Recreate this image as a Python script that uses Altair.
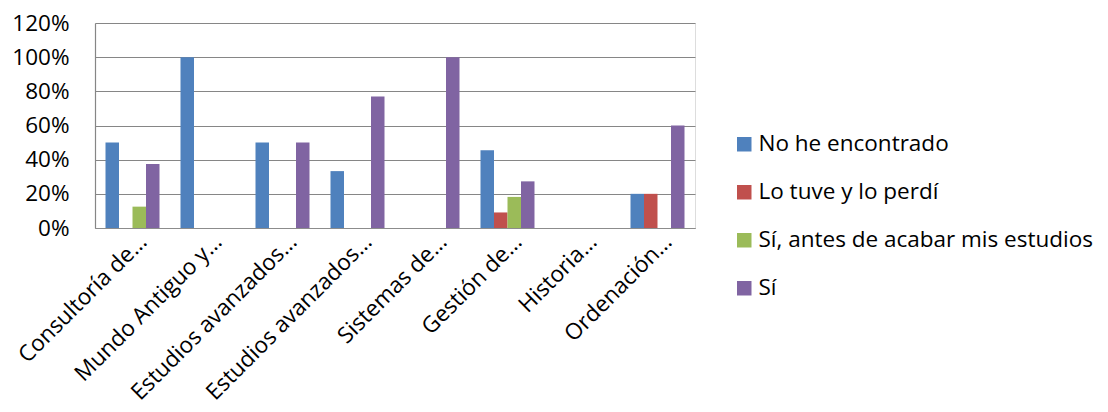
import json
import altair as alt
import pandas as pd

categories = [
    "Consultoría de...",
    "Mundo Antiguo y...",
    "Estudios avanzados...",
    "Estudios avanzados...",
    "Sistemas de...",
    "Gestión de...",
    "Historia...",
    "Ordenación...",
]
series = ["No he encontrado", "Lo tuve y lo perdí", "Sí, antes de acabar mis estudios", "Sí"]
colors = ["#4F81BD", "#C0504D", "#9BBB59", "#8064A2"]

no_he_encontrado = [0.50, 1.00, 0.50, 0.333, 0.0, 0.455, 0.0, 0.20]
lo_tuve_y_lo_perdi = [0.0, 0.0, 0.0, 0.0, 0.0, 0.091, 0.0, 0.20]
si_antes = [0.125, 0.0, 0.0, 0.0, 0.0, 0.182, 0.0, 0.0]
si = [0.375, 0.0, 0.50, 0.77, 1.00, 0.273, 0.0, 0.60]

values = [no_he_encontrado, lo_tuve_y_lo_perdi, si_antes, si]
rows = []
for s, vals in zip(series, values):
    for i, v in enumerate(vals):
        rows.append({"idx": i, "serie": s, "value": v})
df = pd.DataFrame(rows)

FONT = "Open Sans"
FS = 22.5
label_expr = json.dumps(categories, ensure_ascii=False) + "[datum.value]"

chart = (
    alt.Chart(df)
    .mark_bar()
    .encode(
        x=alt.X(
            "idx:O",
            title=None,
            scale=alt.Scale(paddingInner=0.28, paddingOuter=0.14),
            axis=alt.Axis(
                labelExpr=label_expr,
                labelAngle=-45,
                labelAlign="right",
                labelBaseline="top",
                labelPadding=2,
                labelOffset=3,
                ticks=False,
                domainColor="#8c8c8c",
                domainWidth=1.2,
                labelFont=FONT,
                labelFontSize=FS,
                labelColor="#000000",
                labelLimit=400,
            ),
        ),
        xOffset=alt.XOffset("serie:N", sort=series, scale=alt.Scale(paddingInner=0, paddingOuter=0)),
        y=alt.Y(
            "value:Q",
            title=None,
            scale=alt.Scale(domain=[0, 1.2], nice=False),
            axis=alt.Axis(
                values=[0, 0.2, 0.4, 0.6, 0.8, 1.0, 1.2],
                format=".0%",
                grid=True,
                gridColor="#868686",
                gridWidth=1.2,
                ticks=False,
                tickSize=0,
                labelPadding=26,
                domainColor="#868686",
                domainWidth=1.2,
                labelFont=FONT,
                labelFontSize=FS,
                labelColor="#000000",
            ),
        ),
        color=alt.Color(
            "serie:N",
            sort=series,
            scale=alt.Scale(domain=series, range=colors),
            legend=alt.Legend(
                title=None,
                orient="none",
                legendX=638,
                legendY=110,
                symbolType="square",
                symbolSize=210,
                symbolStrokeWidth=0,
                labelFont=FONT,
                labelFontSize=FS,
                labelColor="#000000",
                labelOffset=3,
                rowPadding=25,
                labelLimit=500,
            ),
        ),
    )
    .properties(
        width=600,
        height=205,
        autosize=alt.AutoSizeParams(type="none"),
        padding={"left": 87, "top": 15, "right": 405, "bottom": 182},
    )
    .configure_view(stroke=None)
    .configure(background="white")
)

chart.save("out.html", embed_options={"renderer": "svg", "actions": False})
